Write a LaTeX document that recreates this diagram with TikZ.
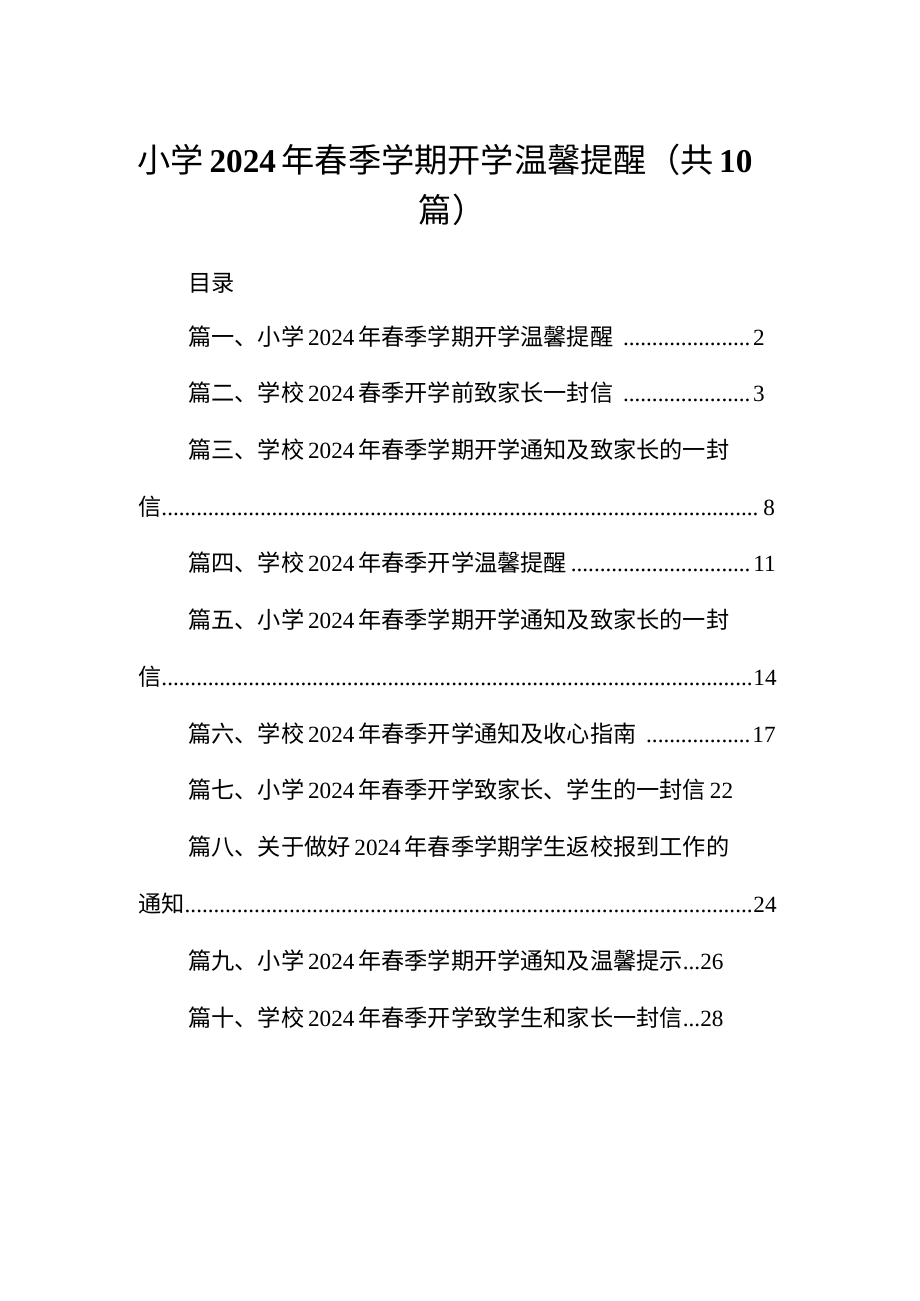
\documentclass[tikz,border=0pt]{standalone}
\usepackage{fontspec}
\setmainfont{Liberation Serif}
\newfontfamily\cjk{Noto Sans CJK SC}
\newcommand{\zh}[1]{{\cjk #1}}
\newcommand{\dts}{\leaders\hbox to 0.25em{\hss.\hss}\hfill}
\begin{document}
\begin{tikzpicture}[x=0.647pt,y=-0.647pt,
  tl/.style={anchor=west,inner sep=0pt,font=\fontsize{15pt}{18pt}\selectfont},
  tt/.style={inner sep=0pt,font=\fontsize{21.5pt}{26pt}\selectfont}]
\useasboundingbox (0,0) rectangle (920,1301);
\node[tt] (t1) at (445,160) {\zh{小学}\,\textbf{2024}\,\zh{年春季学期开学温馨提醒（共}\,\textbf{10}};
\node[tt] (t2) at (452,210) {\zh{篇）}};
\node[tl] (ml) at (188,283) {\zh{目录}};
\node[tl] (e1) at (188,337) {\hbox to 373pt{\zh{篇一、小学}\,2024\,\zh{年春季学期开学温馨提醒}\,\dts2}};
\node[tl] (e2) at (188,393) {\hbox to 373pt{\zh{篇二、学校}\,2024\,\zh{春季开学前致家长一封信}\,\dts3}};
\node[tl] (e3) at (188,450) {\zh{篇三、学校}\,2024\,\zh{年春季学期开学通知及致家长的一封}};
\node[tl] (e3b) at (138,507) {\hbox to 412pt{\zh{信}\dts8}};
\node[tl] (e4) at (188,563) {\hbox to 380pt{\zh{篇四、学校}\,2024\,\zh{年春季开学温馨提醒}\dts11}};
\node[tl] (e5) at (188,620) {\zh{篇五、小学}\,2024\,\zh{年春季学期开学通知及致家长的一封}};
\node[tl] (e5b) at (138,677) {\hbox to 413pt{\zh{信}\dts14}};
\node[tl] (e6) at (188,734) {\hbox to 380pt{\zh{篇六、学校}\,2024\,\zh{年春季开学通知及收心指南}\,\dts17}};
\node[tl] (e7) at (188,790) {\zh{篇七、小学}\,2024\,\zh{年春季开学致家长、学生的一封信}\,22};
\node[tl] (e8) at (188,847) {\zh{篇八、关于做好}\,2024\,\zh{年春季学期学生返校报到工作的}};
\node[tl] (e8b) at (138,904) {\hbox to 413pt{\zh{通知}\dts24}};
\node[tl] (e9) at (188,961) {\zh{篇九、小学}\,2024\,\zh{年春季学期开学通知及温馨提示}...26};
\node[tl] (e10) at (188,1018) {\zh{篇十、学校}\,2024\,\zh{年春季开学致学生和家长一封信}...28};
\end{tikzpicture}
\end{document}
